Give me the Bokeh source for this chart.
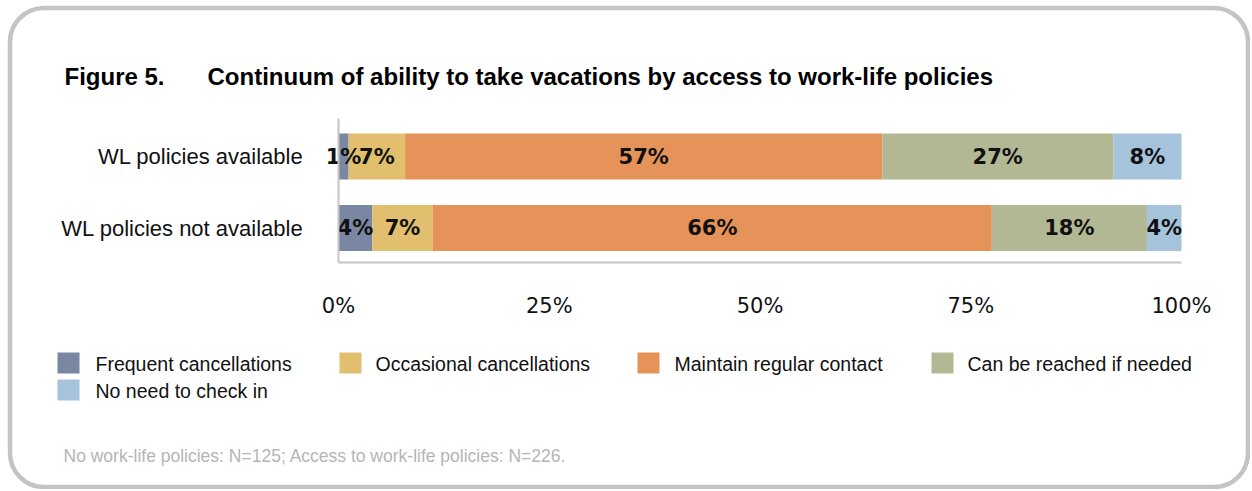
from bokeh.plotting import figure
from bokeh.models import (Label, BoxAnnotation, Range1d, FixedTicker, LinearAxis,
                          PrintfTickFormatter, ColumnDataSource)
from bokeh.core.properties import value
from bokeh.embed import file_html
from bokeh.resources import INLINE

# ---------------- data ----------------
groups = ["WL policies available", "WL policies not available"]
series = ["Frequent cancellations", "Occasional cancellations",
          "Maintain regular contact", "Can be reached if needed",
          "No need to check in"]
colors = ["#7a87a2", "#e1bf6e", "#e69359", "#b3b894", "#a6c3dc"]
available = [1.2, 6.7, 56.6, 27.4, 8.1]
not_available = [4.0, 7.2, 66.3, 18.4, 4.1]
x_ticks = [0, 25, 50, 75, 100]
title_num = "Figure 5."
title_text = "Continuum of ability to take vacations by access to work-life policies"
footnote = "No work-life policies: N=125; Access to work-life policies: N=226."

# ---------------- layout (canvas px) ----------------
W, H = 1250, 489
X0, X100 = 338, 1181          # pixel of 0% and 100%
ROW_TOP, ROW_STEP = 156, 71.5  # pixel centre of first row, row spacing
BAR_PX = 46
AXIS_Y, AXIS_TOP = 262, 118

PX_PER_X = (X100 - X0) / 100.0
row_pos = list(range(len(groups)))[::-1]   # first group on top
Y_TOPROW = row_pos[0]


def xdat(px):
    return (px - X0) / PX_PER_X


def ydat(py):
    return Y_TOPROW + (ROW_TOP - py) / ROW_STEP


FONT = "Liberation Sans"

p = figure(width=W, height=H,
           x_range=Range1d(xdat(0), xdat(W)),
           y_range=Range1d(ydat(H), ydat(0)),
           x_axis_location=None, y_axis_location=None,
           output_backend="svg", toolbar_location=None)
p.min_border = 0
p.title.visible = False
p.xgrid.visible = False
p.ygrid.visible = False
p.outline_line_color = None
p.background_fill_color = "white"
p.border_fill_color = "white"

data = {"y": row_pos}
for i, s in enumerate(series):
    data[s] = [available[i], not_available[i]]
src = ColumnDataSource(data)
p.hbar_stack(series, y="y", height=BAR_PX / ROW_STEP, color=colors,
             line_color=None, source=src)

# segment labels
lx, ly, lt = [], [], []
for yv, vals in zip(row_pos, [available, not_available]):
    cum = 0.0
    for v in vals:
        lx.append(cum + v / 2)
        ly.append(yv)
        lt.append(f"{v:.0f}%")
        cum += v
p.text(x=lx, y=ly, text=lt, text_align="center", text_baseline="middle",
       text_font=value("DejaVu Sans"), text_font_style="bold",
       text_font_size="21px", text_color="#111111")

# axes (library axes, pinned at the chart's baseline / zero line)
xa = LinearAxis(fixed_location=ydat(AXIS_Y), bounds=(0, 100),
                ticker=FixedTicker(ticks=x_ticks),
                formatter=PrintfTickFormatter(format="%d%%"))
xa.axis_line_color = "#c4c4c4"
xa.axis_line_width = 2
xa.major_tick_line_color = None
xa.minor_tick_line_color = None
xa.major_label_standoff = 25
xa.major_label_text_font = "DejaVu Sans"
xa.major_label_text_font_size = "21px"
xa.major_label_text_color = "#111111"
p.add_layout(xa, "below")

ya = LinearAxis(fixed_location=0, bounds=(ydat(AXIS_Y), ydat(AXIS_TOP)),
                ticker=FixedTicker(ticks=row_pos),
                major_label_overrides={rp: g for rp, g in zip(row_pos, groups)})
ya.axis_line_color = "#c4c4c4"
ya.axis_line_width = 2
ya.major_tick_line_color = None
ya.minor_tick_line_color = None
ya.major_label_standoff = 29
ya.major_label_text_font = FONT
ya.major_label_text_font_size = "22px"
ya.major_label_text_color = "#111111"
p.add_layout(ya, "left")


def sy(py):
    return H - py


# rounded frame
p.add_layout(BoxAnnotation(left=9.5, right=W - 2.5, top=sy(7.5), bottom=sy(H - 2.5),
                           left_units="screen", right_units="screen",
                           top_units="screen", bottom_units="screen",
                           fill_color=None, fill_alpha=0, line_color="#c4c4c4",
                           line_alpha=1.0, line_width=4.5,
                           border_radius=34, level="overlay"))

# title
p.add_layout(Label(x=64, y=sy(76), x_units="screen", y_units="screen",
                   text=title_num, text_font=FONT, text_font_style="bold",
                   text_font_size="24px", text_baseline="alphabetic", text_color="#000000"))
p.add_layout(Label(x=207, y=sy(76), x_units="screen", y_units="screen",
                   text=title_text, text_font=FONT, text_font_style="bold",
                   text_font_size="24px", text_baseline="alphabetic", text_color="#000000"))

# legend
sq_x = [57, 339, 637, 931, 57]
tx_x = [95, 375, 674, 967, 95]
row_y = [363, 363, 363, 363, 390]
for i, s in enumerate(series):
    p.add_layout(BoxAnnotation(left=sq_x[i], right=sq_x[i] + 22,
                               top=sy(row_y[i] - 11), bottom=sy(row_y[i] + 10),
                               left_units="screen", right_units="screen",
                               top_units="screen", bottom_units="screen",
                               fill_color=colors[i], fill_alpha=1.0, line_color=None))
    p.add_layout(Label(x=tx_x[i], y=sy(row_y[i]), x_units="screen", y_units="screen",
                       text=s, text_font=FONT, text_font_size="19.5px",
                       text_baseline="middle", text_color="#111111"))

# footnote
p.add_layout(Label(x=63, y=sy(455), x_units="screen", y_units="screen",
                   text=footnote, text_font=FONT, text_font_size="17.5px",
                   text_baseline="alphabetic", text_color="#b5b5b5"))

open("out.html", "w").write(file_html(p, INLINE))
